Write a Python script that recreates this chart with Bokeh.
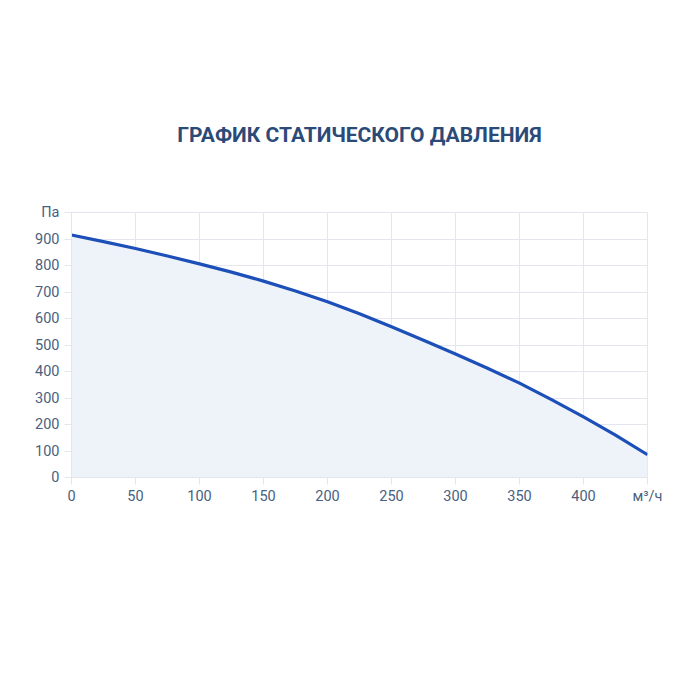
from bokeh.plotting import figure
from bokeh.models import Range1d, FixedTicker, Title
from bokeh.embed import file_html
from bokeh.resources import INLINE

# Data
airflow = [0, 25, 50, 75, 100, 125, 150, 175, 200, 225, 250, 275, 300, 325, 350, 375, 400, 425, 450]
pressure = [915, 890, 864, 836, 806, 775, 741, 704, 663, 618, 569, 518, 466, 412, 356, 294, 229, 160, 86]
x_ticks = [0, 50, 100, 150, 200, 250, 300, 350, 400, 450]
y_ticks = [0, 100, 200, 300, 400, 500, 600, 700, 800, 900, 1000]
title_text = "ГРАФИК СТАТИЧЕСКОГО ДАВЛЕНИЯ"
y_unit = "Па"
x_unit = "м³/ч"

FONT = "Roboto"
TICK_COLOR = "#4a5f80"
GRID_COLOR = "#e3e6ec"

W = 684
H = 684
TOP, BOTTOM = 212, 207
p = figure(width=W, height=H, output_backend="svg", toolbar_location=None,
           x_range=Range1d(0, 450), y_range=Range1d(0, 1000),
           min_border_left=71, min_border_right=37, min_border_top=TOP, min_border_bottom=BOTTOM,
           background_fill_color="#ffffff", border_fill_color="#ffffff")
p.outline_line_color = GRID_COLOR

t = Title(text=title_text, align="center", text_font=FONT, text_font_size="21px",
          text_font_style="bold", text_color="#2c4a78", standoff=132)
p.add_layout(t, "above")

p.varea(x=airflow, y1=0, y2=pressure, fill_color="#eef3fa", fill_alpha=1.0)
p.line(x=airflow, y=pressure, line_color="#1d4fb8", line_width=3.2)

p.xaxis.ticker = FixedTicker(ticks=x_ticks)
p.yaxis.ticker = FixedTicker(ticks=y_ticks)
p.xaxis.major_label_overrides = {450: x_unit}
p.yaxis.major_label_overrides = {1000: y_unit}

for ax in (p.xaxis, p.yaxis):
    ax.axis_line_color = GRID_COLOR
    ax.major_tick_line_color = GRID_COLOR
    ax.minor_tick_line_color = None
    ax.major_tick_out = 7
    ax.major_tick_in = 0
    ax.major_label_text_font = FONT
    ax.major_label_text_font_size = "14.5px"
    ax.major_label_text_color = TICK_COLOR
p.xaxis.major_label_standoff = 3
p.yaxis.major_label_standoff = 5

p.grid.grid_line_color = GRID_COLOR
p.grid.grid_line_width = 1

open("out.html", "w").write(file_html(p, INLINE))
